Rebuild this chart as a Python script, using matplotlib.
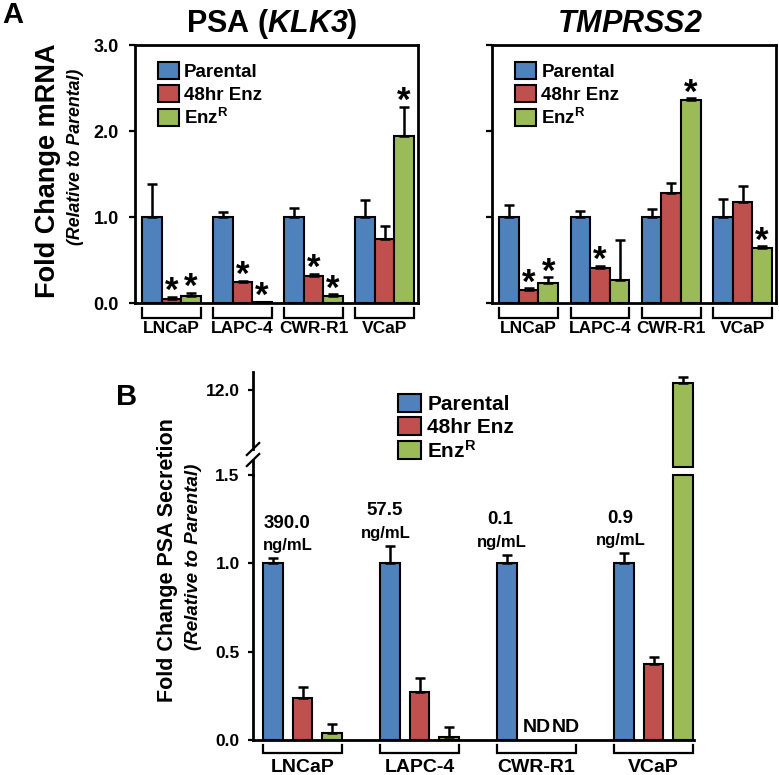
import numpy as np
import matplotlib
matplotlib.use("Agg")
import matplotlib.pyplot as plt
import matplotlib.transforms as mtransforms

plt.rcParams['font.family'] = ['Liberation Sans', 'DejaVu Sans']
plt.rcParams['font.weight'] = 'bold'
plt.rcParams['mathtext.fontset'] = 'custom'
plt.rcParams['mathtext.rm'] = 'Liberation Sans:bold'
plt.rcParams['mathtext.it'] = 'Liberation Sans:bold:italic'
plt.rcParams['mathtext.bf'] = 'Liberation Sans:bold'
plt.rcParams['mathtext.sf'] = 'Liberation Sans:bold:italic'  # italic gene names incl. digits

cell_lines = ['LNCaP', 'LAPC-4', 'CWR-R1', 'VCaP']
series = ['Parental', '48hr Enz', r'Enz$^{\mathrm{R}}$']
colors = ['#4F81BD', '#C0504D', '#9BBB59']

# A, PSA (KLK3) mRNA: rows = Parental, 48hr Enz, EnzR
klk3_mean = [[1.0, 1.0, 1.0, 1.0],
             [0.05, 0.24, 0.31, 0.74],
             [0.085, 0.01, 0.08, 1.94]]
klk3_err = [[0.38, 0.06, 0.10, 0.20],
            [0.02, 0.02, 0.03, 0.16],
            [0.03, 0.005, 0.02, 0.34]]
klk3_sig = [[0, 0, 0, 0],
            [1, 1, 1, 0],
            [1, 1, 1, 1]]

# A, TMPRSS2 mRNA
tmprss2_mean = [[1.0, 1.0, 1.0, 1.0],
                [0.15, 0.41, 1.28, 1.17],
                [0.23, 0.27, 2.36, 0.64]]
tmprss2_err = [[0.14, 0.07, 0.09, 0.21],
               [0.02, 0.02, 0.11, 0.19],
               [0.07, 0.46, 0.02, 0.02]]
tmprss2_sig = [[0, 0, 0, 0],
               [1, 1, 0, 0],
               [1, 0, 1, 1]]

# B, PSA secretion (nan = not detected)
sec_mean = [[1.0, 1.0, 1.0, 1.0],
            [0.24, 0.27, np.nan, 0.43],
            [0.04, 0.017, np.nan, 12.04]]
sec_err = [[0.03, 0.10, 0.05, 0.06],
           [0.06, 0.08, np.nan, 0.04],
           [0.05, 0.056, np.nan, 0.035]]
parental_conc = ['390.0', '57.5', '0.1', '0.9']


def brackets(ax, centers, half, y_top, y_bot, y_lab, fs):
    trans = mtransforms.blended_transform_factory(ax.transData, ax.transAxes)
    for c, name in zip(centers, cell_lines):
        l, r = c - half, c + half
        ax.plot([l, l, r, r], [y_top, y_bot, y_bot, y_top], color='black', lw=1.6,
                transform=trans, clip_on=False, solid_joinstyle='miter')
        ax.text(c, y_lab, name, transform=trans, ha='center', va='center', fontsize=fs)


def draw_mrna(ax, means, errs, sig, title, show_labels):
    x = np.arange(len(cell_lines))
    w = 0.275
    handles = []
    for k in range(3):
        xs = x + (k - 1) * w
        b = ax.bar(xs, means[k], w, color=colors[k], edgecolor='black', linewidth=1.5, zorder=2)
        ax.errorbar(xs, means[k], yerr=[np.zeros(4), errs[k]], fmt='none', ecolor='black',
                    elinewidth=1.8, capsize=3.5, capthick=1.8, zorder=3)
        handles.append(b)
        for xi, m, e, s in zip(xs, means[k], errs[k], sig[k]):
            if s:
                ax.annotate('*', (xi, m + e), xytext=(0, -3), textcoords='offset points',
                            ha='center', va='baseline', fontsize=25)
    ax.set_xlim(-0.514, 3.47)
    ax.set_ylim(0, 3)
    ax.set_xticks([])
    ax.set_yticks([0, 1, 2, 3])
    if show_labels:
        ax.set_yticklabels(['0.0', '1.0', '2.0', '3.0'])
    else:
        ax.set_yticklabels([])
    ax.tick_params(axis='y', direction='out', length=4.5, width=1.6, labelsize=13, pad=7)
    for sp in ax.spines.values():
        sp.set_linewidth(2)
    ax.text(0.485, 1.083, title, transform=ax.transAxes, ha='center', va='center', fontsize=22)
    ax.legend(handles, series, loc='upper left', bbox_to_anchor=(0.081, 0.936), frameon=False,
              fontsize=13.5, handlelength=1.1, handleheight=1.05, handletextpad=0.3,
              labelspacing=0.22, borderpad=0, borderaxespad=0)
    brackets(ax, x, 1.5 * w, -0.019, -0.058, -0.097, 12.5)


fig = plt.figure(figsize=(7.79, 7.75), dpi=100)

ax1 = fig.add_axes([0.1733, 0.6090, 0.3633, 0.3329])
ax2 = fig.add_axes([0.6316, 0.6090, 0.3646, 0.3329])
draw_mrna(ax1, klk3_mean, klk3_err, klk3_sig, r'PSA ($\mathsf{KLK3}$)', True)
draw_mrna(ax2, tmprss2_mean, tmprss2_err, tmprss2_sig, r'$\mathsf{TMPRSS2}$', False)

fig.text(48 / 779, 1 - 171 / 775, 'Fold Change mRNA', rotation=90, ha='center', va='center', fontsize=19.5)
fig.text(76 / 779, 1 - 157 / 775, '(Relative to Parental)', rotation=90, ha='center', va='center',
         fontsize=12.8, style='italic')

# panel B, broken y axis
lo_top = 1.5
hi_lim = (11.565, 12.102)
ax_lo = fig.add_axes([0.3248, 0.04516, 0.5661, 0.3419])
ax_hi = fig.add_axes([0.3248, 0.3974, 0.5661, 0.1226])
xb = np.arange(len(cell_lines))
wb = 0.167
off = 0.252
handles = []
for k in range(3):
    xs = xb + (k - 1) * off
    vals = np.array(sec_mean[k])
    errs = np.array(sec_err[k])
    ok = ~np.isnan(vals)
    b = ax_lo.bar(xs[ok], np.minimum(vals[ok], lo_top), wb, color=colors[k], edgecolor='black',
                  linewidth=1.5, zorder=2, clip_on=False)
    handles.append(b)
    low = ok & (vals <= lo_top)
    ax_lo.errorbar(xs[low], vals[low], yerr=[np.zeros(low.sum()), errs[low]], fmt='none', ecolor='black',
                   elinewidth=1.8, capsize=3.5, capthick=1.8, zorder=3)
    high = ok & (vals > lo_top)
    if high.any():
        ax_hi.bar(xs[high], vals[high] - hi_lim[0], wb, bottom=hi_lim[0], color=colors[k],
                  edgecolor='black', linewidth=1.5, zorder=2, clip_on=False)
        ax_hi.errorbar(xs[high], vals[high], yerr=[np.zeros(high.sum()), errs[high]], fmt='none',
                       ecolor='black', elinewidth=1.8, capsize=3.5, capthick=1.8, zorder=3, clip_on=False)
    for xi in xs[~ok]:
        ax_lo.text(xi, 0.073, 'ND', ha='center', va='center', fontsize=14)

# parental concentrations above the blue bars
label_dx = [11, -3, -4, -2]
for i, conc in enumerate(parental_conc):
    xi = xb[i] - off
    top = sec_mean[0][i] + sec_err[0][i]
    ax_lo.annotate('ng/mL', (xi, top), xytext=(label_dx[i], 9), textcoords='offset points',
                   ha='center', va='center', fontsize=12)
    ax_lo.annotate(conc, (xi, top), xytext=(label_dx[i] - 1, 25), textcoords='offset points',
                   ha='center', va='center', fontsize=13.5)

for ax in (ax_lo, ax_hi):
    ax.set_xlim(-0.423, 3.346)
    ax.set_xticks([])
    ax.spines['top'].set_visible(False)
    ax.spines['right'].set_visible(False)
    ax.spines['left'].set_linewidth(2)
    ax.spines['bottom'].set_linewidth(2)
    ax.tick_params(axis='y', direction='out', length=3.6, width=1.6, labelsize=12.5, pad=6)

ax_lo.set_ylim(0, lo_top)
ax_lo.set_yticks([0, 0.5, 1.0, 1.5])
ax_lo.set_yticklabels(['0.0', '0.5', '1.0', '1.5'])
ax_hi.set_ylim(*hi_lim)
ax_hi.set_yticks([12.0])
ax_hi.set_yticklabels(['12.0'])
ax_hi.spines['bottom'].set_visible(False)
ax_hi.patch.set_visible(False)

# break marks on the y axis
h_hi = 95.0
ax_hi.spines['left'].set_bounds(hi_lim[0] + (467 - 449) / h_hi * (hi_lim[1] - hi_lim[0]), hi_lim[1])
ax_hi.plot([0, 0], [(467 - 460) / h_hi, (467 - 475) / h_hi], color='black', lw=2,
           transform=ax_hi.transAxes, clip_on=False)
for yc in (467 - 449, 467 - 460):
    ax_hi.plot([-0.014, 0.014], [(yc - 6) / h_hi, (yc + 6) / h_hi], color='black', lw=1.6,
               transform=ax_hi.transAxes, clip_on=False)

brackets(ax_lo, xb, off + wb / 2, -0.019, -0.049, -0.102, 14)

ax_lo.legend(handles, series, loc='upper left', bbox_to_anchor=(398 / 779, 1 - 394 / 775),
             bbox_transform=fig.transFigure, frameon=False, fontsize=15, handlelength=1.1,
             handleheight=0.96, handletextpad=0.3, labelspacing=0.12, borderpad=0, borderaxespad=0)

fig.text(168 / 779, 1 - 560 / 775, 'Fold Change PSA Secretion', rotation=90, ha='center', va='center',
         fontsize=15.5)
fig.text(193 / 779, 1 - 557 / 775, '(Relative to Parental)', rotation=90, ha='center', va='center',
         fontsize=13.5, style='italic')

fig.text(13 / 779, 1 - 15 / 775, 'A', ha='center', va='center', fontsize=21)
fig.text(127 / 779, 1 - 397 / 775, 'B', ha='center', va='center', fontsize=21)

fig.savefig('out.png', dpi=100)
